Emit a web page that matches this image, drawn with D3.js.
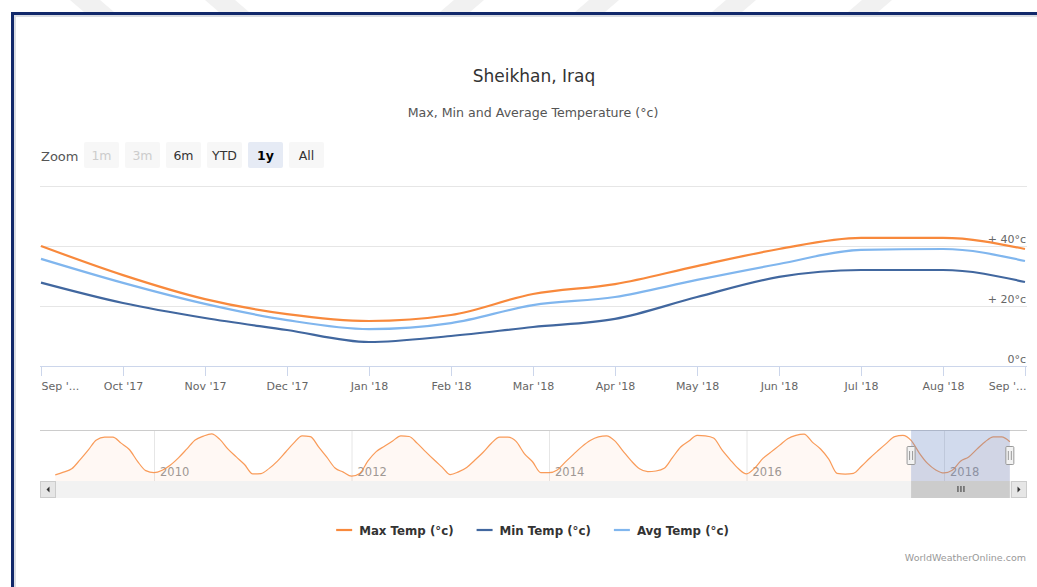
<!DOCTYPE html>
<html><head><meta charset="utf-8">
<script src="https://cdn.jsdelivr.net/npm/d3@7"></script>
<style>
html,body{margin:0;padding:0;background:#fff;overflow:hidden;}
svg{display:block;font-family:"DejaVu Sans",sans-serif;}
</style></head><body>
<svg id="c" width="1037" height="587"></svg>
<script>
// ---------- data ----------
const monthLabels = ["Sep '...","Oct '17","Nov '17","Dec '17","Jan '18","Feb '18","Mar '18","Apr '18","May '18","Jun '18","Jul '18","Aug '18","Sep '..."];
const maxTemp = [40,30.3,22.3,17.3,15,17,24,27.3,33.3,39,42.7,42.7,39];
const minTemp = [27.8,21,16,12,8,10,13,15.7,23,29.7,32,32,28];
const avgTemp = [35.7,27.7,20.7,15.3,12.3,14.3,20.3,23,28.7,34,38.7,39,35];
const yTicks = [0,20,40,60];
const yTickLabels = ["0°c","+ 20°c","+ 40°c",""];
const seriesNames = ["Max Temp (°c)","Min Temp (°c)","Avg Temp (°c)"];
const seriesColors = ["#f8893c","#41679f","#80b6ee"];
const zoomButtons = ["1m","3m","6m","YTD","1y","All"];
const navYears = [2010,2012,2014,2016,2018];
const navStartYear = 2009; // monthly values from Jan 2009
const navHistory = [
 13.5,15.6,18.2,25,32.5,40.4,42.5,42.5,37.9,33,23.9,16.8,
 15.2,17.1,21.1,26.8,33.5,40.3,43.3,45,40.8,33.3,27.3,21.5,
 14.2,14.5,18.5,24.1,31.1,38.1,43.5,42.9,35.1,27.1,18.8,15.6,
 12.5,14.6,24.2,31.4,35.5,39.6,43.5,43,37.7,31.4,25.3,19.5,
 13.7,15.8,19.2,24.9,30.9,37.8,42.5,42.5,39.2,29.9,23.6,15.3,
 15.2,17.3,23.5,29.5,35.2,39.9,42.7,43.5,39.6,31.8,24.2,18.2,
 16,16.5,18.6,26.8,34.9,39.5,43.9,43.5,41.9,32.9,25.3,18.4,
 14.3,18.8,26.2,31.2,36.2,41.3,43.9,44.8,38.7,33.4,25.6,14.7,
 14.1,14.7,20.3,26.5,32.2,37.7,42.9,43.8
];
const navMaxTemp = navHistory.concat(maxTemp);
const selStart = 2017 + 8/12, selEnd = 2018 + 8/12;

// ---------- layout ----------
const svg = d3.select("#c");
const W = 1037, H = 587;
const L = 40, R = 1027;
const font = '"DejaVu Sans", sans-serif';

// watermark stripes at the very top
const stripes = [[70,"\\"],[205,"\\"],[440,"/"],[575,"/"],[712,"/"],[848,"/"]];
stripes.forEach(([sx,dir])=>{
  const w=30, s=14;
  const pts = dir==="\\" ? [[sx,0],[sx+w,0],[sx+w+s,12],[sx+s,12]] : [[sx+s,0],[sx+s+w,0],[sx+w,12],[sx,12]];
  svg.append("polygon").attr("points",pts.map(p=>p.join(",")).join(" ")).attr("fill","#f1f1f1");
});
// frame
svg.append("rect").attr("x",11).attr("y",12).attr("width",W).attr("height",3).attr("fill","#12296b");
svg.append("rect").attr("x",11).attr("y",12).attr("width",3).attr("height",H).attr("fill","#12296b");
svg.append("rect").attr("x",14).attr("y",15).attr("width",W).attr("height",2).attr("fill","#dadde3");
svg.append("rect").attr("x",14).attr("y",15).attr("width",2).attr("height",H).attr("fill","#dadde3");

// titles
svg.append("text").attr("x",534).attr("y",82).attr("text-anchor","middle")
  .attr("font-size",17).attr("fill","#333").text("Sheikhan, Iraq");
svg.append("text").attr("x",533).attr("y",117).attr("text-anchor","middle")
  .attr("font-size",12.6).attr("fill","#555").text("Max, Min and Average Temperature (°c)");

// zoom buttons
svg.append("text").attr("x",41).attr("y",160.5).attr("font-size",13).attr("fill","#555").text("Zoom");
zoomButtons.forEach((b,i)=>{
  const bx = 84 + i*41;
  const disabled = i<2, selected = b==="1y";
  svg.append("rect").attr("x",bx).attr("y",142).attr("width",35).attr("height",26).attr("rx",2)
    .attr("fill", selected ? "#e6ebf5" : "#f7f7f7");
  svg.append("text").attr("x",bx+17.5).attr("y",159.5).attr("text-anchor","middle")
    .attr("font-size",12.5).attr("font-weight", selected ? "bold":"normal")
    .attr("fill", disabled ? "#cccccc" : (selected ? "#000" : "#333")).text(b);
});

// ---------- main chart ----------
const x = d3.scaleLinear().domain([0, monthLabels.length-1]).range([41, 1025]);
const y = d3.scaleLinear().domain([0,60]).range([366,186]);

// gridlines
const gGrid = svg.append("g").attr("transform",`translate(${L},0)`)
  .call(d3.axisRight(y).tickValues(yTicks).tickSize(R-L).tickFormat(""));
gGrid.select(".domain").remove();
gGrid.selectAll(".tick line").attr("stroke","#e6e6e6");

// y labels
yTicks.forEach((t,i)=>{
  svg.append("text").attr("x",1026).attr("y",y(t)-3).attr("text-anchor","end")
    .attr("font-size",11).attr("fill","#666").text(yTickLabels[i]);
});

// x axis
const gx = svg.append("g").attr("transform","translate(0,366)")
  .call(d3.axisBottom(x).tickValues(d3.range(monthLabels.length)).tickSize(10).tickSizeOuter(0)
    .tickFormat(i=>monthLabels[i]));
gx.select(".domain").attr("d",`M${L},0.5H${R}`).attr("stroke","#ccd6eb");
gx.selectAll(".tick line").attr("stroke","#ccd6eb");
gx.selectAll(".tick text").attr("font-family",font).attr("font-size",11).attr("fill","#666").attr("dy","1.0em");
gx.selectAll(".tick text").filter((d,i)=>i===0).attr("text-anchor","start").attr("dx",0);
gx.selectAll(".tick text").filter((d,i)=>i===monthLabels.length-1).attr("text-anchor","end").attr("dx",1);

// series
const line = d3.line().x((d,i)=>x(i)).y(d=>y(d)).curve(d3.curveMonotoneX);
[maxTemp,minTemp,avgTemp].forEach((s,k)=>{
  svg.append("path").attr("d",line(s)).attr("fill","none").attr("stroke",seriesColors[k])
    .attr("stroke-width",2.2).attr("stroke-linejoin","round");
});

// ---------- navigator ----------
const nTop = 430, nBot = 481;
const nx = d3.scaleLinear().domain([2010,2018]).range([154,944]);
const ny = d3.scaleLinear().domain([8.8,48]).range([nBot,nTop]);
const navT = i => navStartYear + i/12;

const gn = svg.append("g").attr("transform",`translate(0,${nBot})`)
  .call(d3.axisTop(nx).tickValues(navYears).tickSize(nBot-nTop).tickFormat(""));
gn.select(".domain").remove();
gn.selectAll(".tick line").attr("stroke","#e6e6e6");
navYears.forEach(yr=>{
  svg.append("text").attr("x",nx(yr)+6).attr("y",476).attr("font-size",11.5).attr("fill","#999").text(yr);
});
const area = d3.area().x((d,i)=>nx(navT(i))).y0(nBot).y1(d=>ny(d)).curve(d3.curveMonotoneX);
svg.append("path").attr("d",area(navMaxTemp)).attr("fill","#f8893c").attr("fill-opacity",0.06);
svg.append("path").attr("d",area.lineY1()(navMaxTemp)).attr("fill","none").attr("stroke","#f8893c")
  .attr("stroke-opacity",0.85).attr("stroke-width",1.2);
// top outline
svg.append("line").attr("x1",L).attr("x2",R).attr("y1",nTop+0.5).attr("y2",nTop+0.5).attr("stroke","#cccccc");
// mask
const m0 = nx(selStart), m1 = nx(selEnd);
svg.append("rect").attr("x",m0).attr("y",nTop).attr("width",m1-m0).attr("height",nBot-nTop)
  .attr("fill","rgba(102,133,194,0.3)");
// handles
[m0,m1].forEach(hx=>{
  svg.append("rect").attr("x",hx-4).attr("y",446.5).attr("width",8).attr("height",18).attr("rx",1)
    .attr("fill","#f2f2f2").attr("stroke","#999");
  [-1.5,1.5].forEach(o=>svg.append("line").attr("x1",hx+o).attr("x2",hx+o).attr("y1",451).attr("y2",460)
    .attr("stroke","#999"));
});
// scrollbar
const sTop = 481, sH = 17;
svg.append("rect").attr("x",L).attr("y",sTop).attr("width",R-L).attr("height",sH).attr("fill","#f2f2f2");
svg.append("rect").attr("x",m0).attr("y",sTop).attr("width",m1-m0).attr("height",sH).attr("fill","#cccccc");
const mid=(m0+m1)/2;
[-3,0,3].forEach(o=>svg.append("line").attr("x1",mid+o+0.5).attr("x2",mid+o+0.5).attr("y1",486).attr("y2",492).attr("stroke","#333"));
[[L,"l"],[R-16,"r"]].forEach(([bx,d])=>{
  svg.append("rect").attr("x",bx+0.5).attr("y",sTop+0.5).attr("width",15).attr("height",sH-1)
    .attr("fill","#e6e6e6").attr("stroke","#cccccc");
  const cx=bx+8, cy=sTop+sH/2;
  const p = d==="l" ? [[cx+1.5,cy-3],[cx+1.5,cy+3],[cx-1.5,cy]] : [[cx-1.5,cy-3],[cx-1.5,cy+3],[cx+1.5,cy]];
  svg.append("polygon").attr("points",p.map(q=>q.join(",")).join(" ")).attr("fill","#333");
});

// ---------- legend ----------
const lg = svg.append("g");
let lx = 0;
seriesNames.forEach((n,k)=>{
  const g = lg.append("g").attr("transform",`translate(${lx},0)`);
  g.append("line").attr("x1",0).attr("x2",16).attr("y1",530).attr("y2",530)
    .attr("stroke",seriesColors[k]).attr("stroke-width",2.2);
  const t = g.append("text").attr("x",23).attr("y",534.5).attr("font-size",11.8).attr("font-weight","bold")
    .attr("fill","#333").text(n);
  lx += 23 + t.node().getComputedTextLength() + 23;
});
const lw = lx - 23;
lg.attr("transform",`translate(${532.5 - lw/2},0)`);

// credits
svg.append("text").attr("x",1026).attr("y",561).attr("text-anchor","end").attr("font-size",9.5)
  .attr("fill","#999").text("WorldWeatherOnline.com");
</script>
</body></html>
